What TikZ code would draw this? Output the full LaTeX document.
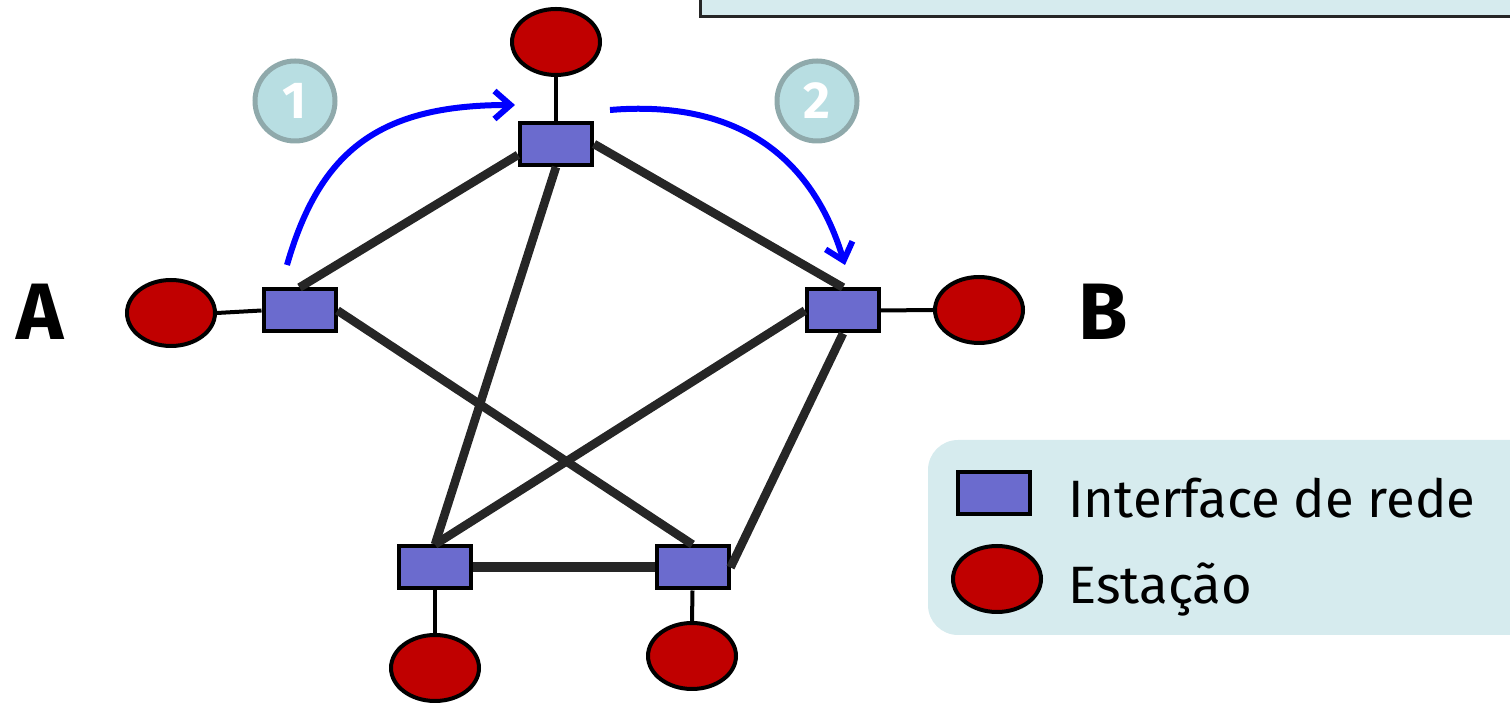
\documentclass[tikz,border=0pt]{standalone}
\usepackage{fontspec}
\setmainfont{Fira Sans}
\usetikzlibrary{arrows.meta,shapes.geometric}
\definecolor{ifc}{HTML}{6B6BCE}
\definecolor{stc}{HTML}{C00000}
\definecolor{lbg}{HTML}{D6EBEE}
\definecolor{cfill}{HTML}{B8DEE2}
\definecolor{cbord}{HTML}{8FA9AB}
\definecolor{lnk}{HTML}{262626}
\tikzset{
  iface/.style={rectangle,draw=black,line width=2pt,fill=ifc,minimum width=36pt,minimum height=21pt,inner sep=0pt},
  station/.style={ellipse,draw=black,line width=2pt,fill=stc,minimum width=44pt,minimum height=33pt,inner sep=0pt},
  link/.style={draw=lnk,line width=4.3pt},
  thin/.style={draw=black,line width=2pt},
  flow/.style={draw=blue,line width=3pt,-{Straight Barb[length=8pt,width=14pt,line width=3pt]}},
  numc/.style={circle,draw=cbord,line width=2.5pt,fill=cfill,minimum size=40pt,inner sep=0pt,text=white,font=\fontsize{26}{28}\selectfont\bfseries},
  big/.style={font=\fontsize{40}{42}\selectfont\bfseries},
  legtxt/.style={anchor=base west,inner sep=0pt,font=\fontsize{26.3}{30}\selectfont}
}
\begin{document}
\begin{tikzpicture}[x=0.5pt,y=-0.5pt]
\useasboundingbox (0,0) rectangle (1510,704);
% top-right box
\path[fill=lbg,draw=black!85,line width=1.5pt] (700,-20) rectangle (1530,17);
% legend
\path[fill=lbg,rounded corners=15pt] (928,440) rectangle (1540,635);
\node[iface] (lgI) at (994,493.5) {};
\node[station] (lgS) at (997,579) {};
\node[legtxt] (lgIt) at (1068,518) {Interface de rede};
\node[legtxt] (lgSt) at (1068,604) {Estação};
% interfaces
\node[iface] (iT) at (556,144) {};
\node[iface] (iL) at (299.5,310.5) {};
\node[iface] (iR) at (843,310.5) {};
\node[iface] (iBL) at (435,567.5) {};
\node[iface] (iBR) at (692.5,567.5) {};
% stations
\node[station] (sT) at (556,42) {};
\node[station] (sA) at (171,313) {};
\node[station] (sB) at (979,310) {};
\node[station] (sBL) at (435,668) {};
\node[station] (sBR) at (692,656) {};
% labels
\node[big] (lA) at (40,312) {A};
\node[big] (lB) at (1103,312) {B};
\node[numc] (n1) at (295,101) {1};
\node[numc] (n2) at (817,101) {2};
% thin links
\draw[thin] (sA.east) -- (iL.west);
\draw[thin] (sT.south) -- (iT.north);
\draw[thin] (iR.east) -- (sB.west);
\draw[thin] (iBL.south) -- (sBL.north);
\draw[thin] (iBR.south) -- (sBR.north);
% thick links
\draw[link] (iL.north) -- (iT.196);
\draw[link] (iT.south) -- (iBL.north);
\draw[link] (iT.east) -- (iR.north);
\draw[link] (iL.east) -- (iBR.north);
\draw[link] (iR.west) -- (iBL.north);
\draw[link] (iR.south) -- (iBR.east);
\draw[link,line width=5pt] (iBL.east) -- (iBR.west);
% flow arrows
\coordinate (f1s) at (287,265);
\coordinate (f1e) at (515,105);
\coordinate (f2s) at (610,110);
\coordinate (f2e) at (845,265);
\draw[flow] (f1s) .. controls (320,150) and (380,105) .. (f1e);
\draw[flow] (f2s) .. controls (730,100) and (810,150) .. (f2e);
\end{tikzpicture}
\end{document}
